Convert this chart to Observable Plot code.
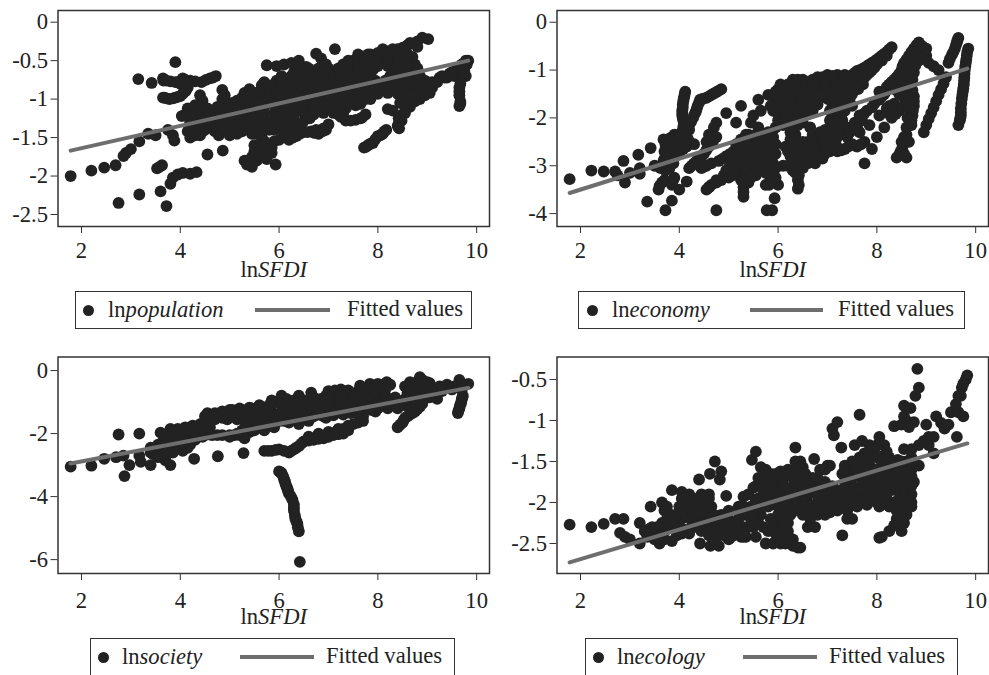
<!DOCTYPE html>
<html><head><meta charset="utf-8">
<script src="https://cdn.jsdelivr.net/npm/d3@7"></script>
<script src="https://cdn.jsdelivr.net/npm/@observablehq/plot@0.6"></script>
<style>
html,body{margin:0;padding:0;background:#fff;overflow:hidden}
#stage{position:relative;width:989px;height:675px;overflow:hidden;font-family:"Liberation Serif",serif;color:#222}
#stage>div.p{position:absolute}
.box{position:absolute;border:1.5px solid #333;box-sizing:border-box;background:#fff}
.dot{position:absolute;width:11px;height:11px;border-radius:50%;background:#222}
.ln{position:absolute;height:4px;background:#6e6e6e}
.t{position:absolute;font-size:22.6px;line-height:24px;white-space:nowrap}
.t i{font-style:italic}
</style></head><body><div id="stage"></div>
<script>
const xTicks=[2,4,6,8,10];
const fitX=[1.78,9.83];

const population=[[1.78,-2],[2.2,-1.93],[2.46,-1.89],[2.69,-1.86],[2.75,-2.35],[3.17,-2.24],[3.6,-2.2],[3.72,-2.39],[3.53,-1.9],[3.63,-1.86],[3.58,-1.88],
[2.85,-1.74],[2.9,-1.7],[3,-1.65],[3.17,-1.55],[3.15,-.74],[3.42,-.79],[3.65,-.73],[3.66,-.76],[3.9,-.52],
[3.65,-.98],[3.78,-1],[3.9,-.98],[4,-.96],[4.1,-.9],[4.15,-.85],[3.8,-.77],[3.9,-.78],[4.05,-.73],[4,-.8],[4.2,-.76],[4.43,-.78],[4.6,-.73],[4.72,-.7],
[3.8,-2.1],[3.85,-2.02],[3.95,-1.98],[4.05,-1.96],[4.2,-1.97],[4.33,-1.95],[4.55,-1.72],[4.86,-1.67],[3.35,-1.45],[3.5,-1.47],[3.75,-1.4],[3.85,-1.47],[3.88,-1.54],
[4.4,-.95],[4.45,-1.02],[4.3,-1.08],[4.15,-1.12],[4.1,-1.2],[4.03,-1.22],[4.25,-1.2],[4.4,-1.15],[4.55,-1.12],[4.7,-1.15],[4.85,-1],[4.85,-.88],[4.9,-.95],[4.95,-1.1],[5.05,-1.05],[5.15,-1.02],[5.25,-1.1],[5.3,-.92],[5.4,-.87],[5.5,-.95],[5.65,-.82],[5.7,-.78],[5.55,-1],[5.7,-1],[5.85,-.9],[5.95,-.8],
[4.2,-1.3],[4.35,-1.28],[4.5,-1.25],[4.65,-1.22],[4.8,-1.2],[4.95,-1.2],[5.1,-1.18],[5.25,-1.2],[5.4,-1.15],[5.55,-1.12],[5.7,-1.1],[5.85,-1.05],
[4.15,-1.42],[4.2,-1.5],[4.3,-1.47],[4.45,-1.42],[4.55,-1.35],[4.7,-1.42],[4.78,-1.47],[4.95,-1.4],[5,-1.47],[5.1,-1.35],[5.25,-1.42],[5.3,-1.3],[5.45,-1.32],[5.6,-1.25],[5.75,-1.3],[5.8,-1.4],[5.95,-1.3],[6,-1.2],[6.1,-1.25],[6.2,-1.3],[6.3,-1.2],
[6,-1.1],[6.2,-1.1],[6.4,-1.12],[6.6,-1.1],[6.8,-1.13],[7,-1.12],[7.2,-1.15],[7.35,-1.12],[7.55,-1.08],
[5.9,-1],[6.1,-1],[6.3,-1],[6.5,-1],[6.7,-1],[6.9,-1],[7.1,-1],[7.3,-1],[7.5,-1],[7.7,-.98],
[5.9,-.88],[6.1,-.88],[6.3,-.88],[6.5,-.88],[6.7,-.88],[6.9,-.88],[7.1,-.88],[7.3,-.88],[7.5,-.88],[7.7,-.88],[7.9,-.88],[8.1,-.85],[8.3,-.85],[8.5,-.88],[8.7,-.85],[8.9,-.82],
[5.95,-.76],[6.15,-.76],[6.35,-.76],[6.55,-.76],[6.75,-.76],[6.95,-.76],[7.15,-.76],[7.35,-.76],[7.55,-.76],[7.75,-.76],[7.95,-.76],[8.15,-.76],[8.35,-.76],[8.55,-.76],[8.75,-.76],[8.95,-.76],
[6.3,-.65],[6.5,-.65],[6.7,-.65],[6.9,-.65],[7.1,-.65],[7.3,-.65],[7.5,-.65],[7.7,-.65],[7.9,-.62],[8.3,-.62],[8.5,-.62],[8.7,-.62],
[5.75,-.56],[5.95,-.57],[6.1,-.55],[6.25,-.53],[6.4,-.5],[6.55,-.58],[6.75,-.41],[6.85,-.47],[6.95,-.55],[7.13,-.35],[7.3,-.55],[7.5,-.5],[7.65,-.45],[7.85,-.42],[8,-.4],[8.2,-.38],[8.4,-.35],[8.6,-.3],[7.7,-.55],[7.9,-.52],[8.1,-.5],[8.3,-.48],[8.5,-.46],[8.7,-.45],[8.75,-.55],[8.65,-.27],[8.8,-.25],[8.9,-.2],[9.02,-.22],
[6.2,-1.53],[6.35,-1.48],[6.5,-1.43],[6.65,-1.42],[6.8,-1.45],[6.95,-1.4],[7,-1.33],[6.9,-1.38],[6.75,-1.4],[6,-1.53],[6.12,-1.45],[6.2,-1.4],[6.4,-1.32],[6.55,-1.25],[6.7,-1.2],[7.35,-1.28],[7.55,-1.27],[7.65,-1.25],[7.75,-1.2],[7.2,-1.2],
[5.93,-1.85],[5.6,-1.6],[5.65,-1.5],[5.9,-1.55],[5.3,-1.8],[5.35,-1.85],[5.45,-1.88],[5.55,-1.8],[5.65,-1.75],[5.75,-1.78],[5.85,-1.7],[5.8,-1.6],[5.5,-1.68],
[7.72,-1.63],[7.8,-1.6],[7.9,-1.57],[8,-1.48],[8.1,-1.45],[8.17,-1.4],[8.4,-1.35],[8.42,-1.25],[8.5,-1.2],[8.55,-1.1],[8.3,-1.15],[8.2,-1.13],[7.75,-1],[7.85,-1],
[9.65,-1.09],[9.67,-1.03],[9.65,-.9],[9.65,-.85],[9.67,-.8],[8.65,-1.1],[8.75,-1.03],[8.85,-1],[8.95,-.95],[9.05,-.92],[8.45,-.95],[8.6,-.98],
[9,-.78],[9.2,-.78],[9.3,-.7],[9.45,-.67],[9.6,-.6],[9.7,-.55],[9.83,-.5],[9.8,-.55],[9.75,-.63],[9.78,-.7],[9.65,-.68],[9.4,-.72]];
const populationDense=[[5.9,-1.06],[6.1,-1.06],[6.3,-1.06],[6.5,-1.06],[6.7,-1.06],[6.9,-1.06],[7.1,-1.06],[7.3,-1.06],[7.45,-1.06],[7.65,-1.06],
[5.8,-.94],[6,-.94],[6.2,-.94],[6.4,-.94],[6.6,-.94],[6.8,-.94],[7,-.94],[7.2,-.94],[7.4,-.94],[7.6,-.94],[7.8,-.94],[8,-.93],[8.2,-.92],[8.4,-.93],[8.6,-.92],
[5.85,-.82],[6.05,-.82],[6.25,-.82],[6.45,-.82],[6.65,-.82],[6.85,-.82],[7.05,-.82],[7.25,-.82],[7.45,-.82],[7.65,-.82],[7.85,-.82],[8.05,-.82],[8.25,-.82],[8.45,-.82],[8.65,-.82],[8.85,-.82],
[6.05,-.7],[6.25,-.7],[6.45,-.7],[6.65,-.7],[6.85,-.7],[7.05,-.7],[7.25,-.7],[7.45,-.7],[7.65,-.7],[7.85,-.7],[8.25,-.7],[8.45,-.7],[8.65,-.7],[8.85,-.7],
[6.4,-.6],[6.6,-.6],[6.8,-.6],[7,-.6],[7.2,-.6],[7.4,-.6],[7.6,-.6],[7.8,-.6],[8,-.57],[8.2,-.57],[8.4,-.58],[8.6,-.55],[8.8,-.6],
[7.4,-.5],[7.6,-.5],[7.8,-.5],[8,-.47],[8.2,-.47],[8.4,-.45],[8.6,-.42],[8.8,-.32],
[7.6,-.42],[7.8,-.42],[8,-.42],[8.2,-.42],[8.4,-.42],[8.1,-.35],[8.3,-.35],[8.5,-.33],
[5.9,-1.18],[6.1,-1.18],[6.3,-1.15],[6.5,-1.18],[6.7,-1.15],[6.9,-1.18],[7.1,-1.18],[7.3,-1.18],
[5.85,-1.3],[6.05,-1.3],[6.3,-1.28],[5.5,-1.4],[5.65,-1.4],[5.9,-1.4],[6.05,-1.4],
[4.3,-1.2],[4.45,-1.2],[4.6,-1.18],[4.75,-1.1],[4.85,-1.12],[5,-1.15],[5.15,-1.12],[5.35,-1],[5.45,-1.05],[5.6,-1.05],[5.75,-.9],[5.6,-.9],[5.45,-.95],[5.25,-.98],
[4.35,-1.38],[4.5,-1.33],[4.65,-1.3],[4.8,-1.3],[4.95,-1.3],[5.1,-1.28],[5.25,-1.3],[5.4,-1.25],[5.55,-1.2],[5.7,-1.2],[5.05,-1.4],[5.2,-1.35],[5.4,-1.4],[5.6,-1.35],[5.7,-1.4],[4.25,-1.4],[4.4,-1.47],
[5.55,-1.75],[5.45,-1.75],[5.65,-1.65],[5.75,-1.68],[5.4,-1.8],[5.5,-1.6],[5.7,-1.55],[5.85,-1.63],
[6.28,-1.5],[6.42,-1.45],[6.58,-1.43],[6.72,-1.44],[6.88,-1.42],[6.3,-1.38],[6.48,-1.3],[6.62,-1.25],[7.25,-1.23],[7.45,-1.28],[7.68,-1.24],[7.15,-1.15],
[9.1,-.78],[9.25,-.72],[9.35,-.72],[9.5,-.65],[9.55,-.7],[9.7,-.62],[9.78,-.5],[9.72,-.7],[9.1,-.85],[8.85,-.93],[8.45,-1.05],[8.55,-1.02],[8.65,-.95],[8.75,-.95],[8.55,-1.18],[8.48,-1.28],[8.42,-1.32],[8.43,-1.38],
[7.76,-1.62],[7.85,-1.58],[7.95,-1.52],[8.05,-1.47],[8.13,-1.42],[9.65,-.95],[9.67,-1.06],
[3.68,-.98],[3.72,-.99],[3.85,-.99],[3.95,-.97],[4.05,-.93],[4.12,-.88],[3.98,-.77],[4.1,-.75],[4.3,-.77],[4.52,-.75],[4.66,-.72],[3.72,-.76],
[4.5,-1.4],[4.85,-1.38],[5.15,-1.45],[5.45,-1.45],[5.55,-1.45]];
const populationFit=[-1.67,-.5];

const economy=[[1.78,-3.28],[2.22,-3.1],[2.47,-3.12],[2.7,-3.12],[2.87,-2.9],[2.75,-3.2],[2.9,-3.35],[3,-3.15],[3.17,-2.77],[3.2,-3.05],[3.2,-3.17],[3.42,-2.63],[3.35,-3.75],[3.5,-3],[3.58,-3.5],[3.65,-3.35],[3.7,-3.05],[3.72,-3.93],[3.85,-3.73],[3.85,-3.4],[3.9,-3.25],[4,-3.5],[4.15,-3.33],[4.75,-3.93],[5.77,-3.93],[5.88,-3.93],[5.93,-3.68],[5.3,-3.65],
[4.12,-1.45],[4.1,-1.55],[4.08,-1.65],[4.07,-1.78],[4.06,-1.9],[4.07,-2],[4.1,-2.1],[4.08,-2.2],[4.05,-2.3],[3.9,-2.35],[4.15,-2.3],[4.85,-1.4],[4.75,-1.46],[4.65,-1.52],[4.55,-1.58],[4.42,-1.62],[4.37,-1.75],[4.33,-1.88],[4.28,-2],[4.2,-2.15],
[3.68,-2.45],[3.85,-2.55],[4,-2.55],[4.15,-2.6],[3.7,-2.7],[3.85,-2.72],[4,-2.72],[3.7,-2.85],[3.85,-2.88],[3.62,-3.05],[4.3,-2.55],[4.55,-2.5],[4.6,-2.35],[4.7,-2.2],[4.75,-2.1],[4.95,-1.9],[5.25,-1.75],[5.6,-1.62],[5.8,-1.52],[5.15,-2.1],[5.5,-1.95],[5.65,-1.85],
[4.2,-3.05],[4.3,-2.95],[4.4,-2.85],[4.5,-2.75],[4.6,-2.6],[4.75,-2.4],[4.45,-3.05],[4.55,-3],[4.8,-2.9],[4.95,-2.8],[5.1,-2.7],[5.3,-2.6],[4.55,-3.5],[4.65,-3.4],[4.85,-3.3],[5,-3.25],[5.15,-3.15],[5.3,-3.05],[5.45,-2.95],[5.6,-2.8],[5.4,-2.35],[5.5,-2.55],[5.65,-2.4],[5.35,-2.8],[5.45,-3.1],[5.6,-3],[5.75,-2.9],[5.85,-2.7],[5.95,-2.55],[5.25,-3.3],[5.3,-3.45],[5.4,-3.2],[5.55,-3.2],[5.75,-3.4],[5.85,-3.25],[6,-3.4],[5.7,-2.55],[5.8,-2.3],[5.95,-2.2],[5.45,-2.1],[5.6,-2.2],[5.1,-2.95],[5.7,-3.1],[6.1,-3],
[6.15,-2.6],[6.25,-2.45],[6.3,-2.25],[6.25,-2.8],[6.2,-3],[6.35,-2.95],[6.4,-3.3],[6.4,-3.48],[6.35,-3.15],[6.5,-3.05],[6.5,-2.85],[6.6,-2.75],[6.75,-2.6],[6.6,-2.5],[6.55,-2.65],[6.8,-2.45],[6.95,-2.55],[7,-2.35],[7.1,-2.1],[6.75,-2.95],[6.9,-2.85],[7.05,-2.7],[7.15,-2.5],[6.95,-2.25],[6.6,-2.95],[7.2,-2.3],[6.5,-2.1],[6.65,-2.2],[7.3,-2.05],
[6,-1.4],[6.2,-1.3],[6.4,-1.2],[6.6,-1.25],[6.8,-1.15],[7,-1.1],[7.2,-1.1],[6,-1.55],[6.2,-1.5],[6.4,-1.45],[6.65,-1.4],[6.85,-1.35],[7.1,-1.3],[5.9,-1.7],[6.1,-1.7],[6.3,-1.65],[6.5,-1.6],[6.7,-1.55],[6.9,-1.55],[7.3,-1.45],[5.9,-1.85],[6.1,-1.85],[6.3,-1.85],[6.5,-1.8],[6.7,-1.85],[7.1,-1.6],[6.2,-2],[6.4,-2],[6.1,-2.15],[7.05,-1.85],[7.25,-1.75],[7.45,-1.6],
[8.3,-.52],[8.2,-.62],[8.1,-.7],[8,-.78],[7.9,-.85],[7.8,-.92],[7.7,-.98],[7.6,-1.02],[7.5,-1.1],[7.4,-1.2],[7.3,-1.3],[7.8,-1.1],[7.7,-1.2],[7.6,-1.28],[7.5,-1.4],[7.35,-1.1],[7.95,-.95],
[7.2,-2.7],[7.35,-2.65],[7.5,-2.55],[7.4,-2.4],[7.6,-2.6],[7.75,-2.5],[7.65,-2.3],[7.85,-2.15],[7.4,-2.2],[7.55,-2.1],[7.65,-1.95],[7.8,-1.85],[7.95,-1.7],[8.15,-1.5],[8.05,-1.45],[7.75,-2.95],[7.9,-2.65],[8,-2.4],[8.15,-2.2],[8.05,-1.95],[8.2,-1.8],[8.35,-1.7],[8.5,-1.5],[8.3,-2],[8.45,-1.85],[8.6,-1.65],
[8.85,-.42],[8.75,-.55],[8.65,-.7],[8.55,-.85],[8.5,-1],[8.4,-1.15],[8.3,-1.25],[8.2,-1.35],[9,-.55],[8.85,-.6],[8.7,-.85],[8.6,-1.05],[8.55,-1.2],[8.45,-1.3],[8.85,-.8],[9.05,-.85],[9.25,-1],[8.75,-1.05],[8.7,-1.3],[8.75,-1.55],[8.75,-1.75],[8.72,-1.95],[8.7,-2.15],[8.65,-2.5],[8.6,-2.35],[8.5,-2.5],[8.48,-2.7],[8.4,-2.83],[8.6,-2.83],[8.55,-2.75],
[9.65,-.33],[9.62,-.42],[9.58,-.55],[9.52,-.68],[9.45,-.85],[9.85,-.55],[9.82,-.7],[9.8,-.85],[9.78,-1],[9.77,-1.15],[9.76,-1.3],[9.74,-1.45],[9.72,-1.6],[9.7,-1.8],[9.7,-1.95],[9.68,-2.05],[9.65,-2.15],
[9.4,-1.15],[9.3,-1.4],[9.2,-1.65],[9.1,-1.9],[9,-2.15],[8.95,-2.3]];
const economyDense=[[6.05,-1.3],[6.25,-1.3],[6.45,-1.3],[6.65,-1.3],[6.85,-1.25],[7.05,-1.2],[6.3,-1.2],[6.5,-1.2],[6.7,-1.2],[6.9,-1.15],[7.1,-1.12],
[5.95,-1.45],[6.1,-1.45],[6.3,-1.45],[6.5,-1.45],[6.75,-1.45],[6.95,-1.45],[7.2,-1.45],
[5.95,-1.6],[6.15,-1.6],[6.35,-1.6],[6.55,-1.6],[6.75,-1.6],[7,-1.6],[7.2,-1.6],[7.4,-1.55],
[5.85,-1.75],[6,-1.75],[6.2,-1.75],[6.4,-1.75],[6.6,-1.75],[6.8,-1.72],[7.25,-1.65],[7.4,-1.7],
[6,-1.9],[6.2,-1.9],[6.4,-1.9],[6.6,-1.92],[6.3,-2.05],[6.5,-2],[6,-2.05],
[5.7,-2.7],[5.8,-2.85],[5.9,-2.95],[5.95,-3.05],[5.5,-2.75],[5.6,-2.65],[5.4,-2.65],[5.45,-2.85],[5.55,-3.05],[5.65,-2.95],[5.75,-3.15],[5.3,-2.9],[5.2,-2.95],[5,-3.05],[4.9,-3.2],[4.75,-3.3],[4.6,-3.45],[5.4,-3.35],[5.25,-3.2],[5.6,-3.1],[5.85,-3.05],[5.95,-3.25],[5.85,-3.35],[5.82,-3.4],
[6.2,-2.7],[6.3,-2.6],[6.4,-2.5],[6.35,-2.35],[6.25,-2.15],[6.4,-2.15],[6.45,-2.75],[6.55,-2.55],[6.7,-2.35],[6.85,-2.3],[6.85,-2.65],[7,-2.45],[7.05,-2.2],[7.15,-2],[7.2,-2.15],[6.65,-2.85],[6.8,-2.75],[6.95,-2.65],[7.1,-2.6],[7.2,-2.4],[7.3,-2.2],[6.45,-2.95],[6.3,-3.1],[6.42,-3.2],[6.42,-3.4],
[8.25,-.57],[8.15,-.66],[8.05,-.74],[7.95,-.82],[7.85,-.88],[7.75,-.95],[7.65,-1],[7.55,-1.06],[7.45,-1.15],[7.35,-1.25],[7.9,-1],[7.75,-1.15],[7.65,-1.25],[7.55,-1.35],[7.45,-1.3],
[7.28,-2.68],[7.42,-2.6],[7.55,-2.58],[7.68,-2.55],[7.45,-2.3],[7.6,-2.2],[7.7,-2.05],[7.25,-1.95],[7.35,-1.85],[7.5,-1.75],[7.75,-1.9],[7.9,-1.78],[8.05,-1.62],[8.1,-1.55],[8.25,-1.75],[8.4,-1.78],[8.55,-1.58],[8.38,-1.92],[8.52,-1.78],[8.22,-1.9],
[8.8,-.48],[8.7,-.62],[8.6,-.78],[8.52,-.92],[8.45,-1.08],[8.35,-1.2],[8.25,-1.3],[8.92,-.5],[8.8,-.68],[8.65,-.95],[8.58,-1.12],[8.5,-1.25],[8.78,-.9],[8.7,-1],[8.65,-1.2],[8.72,-1.2],[8.72,-1.42],[8.75,-1.65],[8.73,-1.85],[8.7,-2.05],[8.68,-1.6],[8.65,-1.8],[8.62,-2],[8.6,-2.2],[8.55,-2.4],[8.52,-2.6],[8.45,-2.77],[8.35,-1.4],[8.45,-1.5],[9,-.7],[9.15,-.92],[8.95,-.75],
[9.63,-.38],[9.6,-.48],[9.55,-.62],[9.48,-.76],[9.83,-.62],[9.81,-.78],[9.79,-.92],[9.775,-1.08],[9.765,-1.22],[9.75,-1.38],[9.73,-1.52],[9.71,-1.7],[9.7,-1.88],[9.69,-2],[9.35,-1.28],[9.25,-1.52],[9.15,-1.78],[9.05,-2.02],
[4.11,-1.5],[4.09,-1.6],[4.07,-1.72],[4.06,-1.84],[4.06,-1.95],[4.08,-2.05],[4.09,-2.15],[4.1,-2.25],[4.8,-1.43],[4.7,-1.49],[4.6,-1.55],[4.48,-1.6],[4.4,-1.68],[4.35,-1.82],[4.3,-1.94],[4.24,-2.08],[4.2,-2.25],
[3.78,-2.6],[3.92,-2.62],[4.08,-2.65],[3.78,-2.8],[3.92,-2.8],[3.75,-2.95],[3.92,-2.45],[4.05,-2.45],[4.25,-3],[4.35,-2.9],[4.45,-2.8],[4.55,-2.67],[4.68,-2.5],[4.5,-3.02],[4.65,-2.95],[4.88,-2.85],[5.03,-2.75],[5.2,-2.65],[4.6,-3.45],[4.75,-3.35],[5.08,-3.2],[3.6,-3.42],[3.7,-3.3],[3.88,-3.3],
[3.72,-2.55],[3.8,-2.68],[3.95,-2.7],[3.75,-2.75],[3.88,-2.95],[3.72,-3],[3.68,-2.9],[4.1,-2.5],[4.18,-2.45],[3.95,-2.55],[3.82,-2.42],[3.98,-2.35],[4.12,-2.4],[3.8,-3.05],[3.72,-3.1],
[4.95,-3.1],[5.05,-2.9],[5.15,-2.8],[5.25,-2.8],[5.2,-3.05],[5.35,-3.1],[5.45,-3.25],[5.5,-2.95],[5.6,-2.9],[5.7,-2.8],[5.3,-3.3],[5.3,-3.55],[5.15,-2.55],[5.25,-2.45],[5.35,-2.5],[5.35,-2.35],[5.6,-2.5],[5.75,-2.65],[5.85,-2.5],[5.85,-2.85],[5.95,-2.75],[5.9,-2.4],[5.7,-2.4],[5.55,-2.35],
[6.1,-1.38],[6.3,-1.38],[6.5,-1.38],[6.72,-1.35],[6.95,-1.3],[5.95,-1.5],[6.05,-1.62],[6.25,-1.55],[6.45,-1.55],[6.6,-1.5],[6.82,-1.5],[7.05,-1.52],[7.18,-1.32],[7.3,-1.25],[6.1,-1.78],[6.3,-1.78],[6.5,-1.72],[6.68,-1.68],[7.1,-1.72],[6.15,-1.95],[6.35,-1.95],[6.55,-1.85],
[6.3,-2.05],[6.15,-2.05],[6.25,-2.3],[6.3,-2.4],[6.25,-2.55],[6.35,-2.75],[6.3,-2.85],[6.4,-2.6],[6.5,-2.5],[6.7,-2.45],[6.7,-2.65],[6.75,-2.85],[6.95,-2.75],[7.05,-2.6],[7.1,-2.35],[7.05,-2.05],[7.25,-2.05],[7.3,-1.9],[6.9,-2.45],[6.6,-2.65],[7.18,-2.58],[6.35,-3.05],
[7.85,-1.05],[7.72,-1.3],[7.62,-1.4],[7.5,-1.5],[7.4,-1.4],[8.1,-.8],[8,-.88],[8.2,-.7],[8.18,-1.45],[8.3,-1.35],[8.4,-1.4],[8.5,-1.4],[8.6,-1.35],[8.6,-1.5]];
const economyFit=[-3.57,-.97];

const society=[[1.78,-3.05],[2.2,-3.02],[2.46,-2.8],[2.7,-2.75],[2.75,-2.03],[2.87,-3.35],[2.97,-3],[2.85,-2.7],[3.17,-2],[3.17,-2.7],[3.2,-2.9],[3.4,-3],[3.6,-1.97],[3.45,-2.65],[3.6,-2.7],[3.8,-3],[3.7,-2.85],[4.28,-2.8],[4.76,-2.72],[5.28,-2.62],
[3.4,-2.45],[3.55,-2.35],[3.7,-2.5],[3.65,-2.25],[3.85,-2.35],[4,-2.4],[3.85,-2.6],[4.05,-2.55],[4.15,-2.45],[3.8,-1.85],[3.95,-1.85],[4.1,-1.8],[3.8,-2.05],[3.95,-2.05],[4.1,-2],[4.25,-1.75],[4.25,-2.05],[4.4,-1.7],[4.4,-1.9],[4.55,-1.35],[4.7,-1.35],[4.85,-1.3],[4.55,-1.55],[4.7,-1.55],[4.85,-1.5],[5,-1.45],[4.5,-2.05],[4.65,-2.05],[4.85,-2.05],[5,-2.05],[5.2,-2.05],[5.3,-2.15],[4.3,-2.2],[5.4,-1.95],
[5,-1.25],[5.2,-1.2],[5.4,-1.18],[5.6,-1.1],[5.2,-1.4],[5.4,-1.4],[5.6,-1.35],[5.8,-1.2],[5.3,-1.6],[5.5,-1.6],[5.7,-1.55],[5.9,-1.4],[5.4,-1.8],[5.6,-1.8],[5.8,-1.7],[6,-1.6],[6.05,-.8],[6,-1],[6.2,-1],[6.4,-.8],[6.4,-1.05],[6.2,-1.25],[6.4,-1.25],[6.6,-1],[6.1,-1.45],[6.3,-1.45],[6.5,-1.4],[6.7,-1.3],[6.2,-1.65],[6.4,-1.7],[6.65,-.7],[6.8,-1],[6.9,-1.25],[6.6,-1.5],[6.9,-1.45],[7,-.65],[7.1,-.95],[7.15,-1.2],[7.25,-.6],[7.35,-.9],[7.35,-1.2],[7.6,-.65],[7.6,-.9],[7.6,-1.15],[7.85,-.55],[7.85,-.8],[7.85,-1.05],[8,-.5],[8.15,-.42],[8.25,-.45],[8.05,-.7],[8.05,-.95],[8.35,-.85],[8.35,-1.05],[8.6,-.7],[8.55,-.9],[8.85,-.65],[8.75,-.85],[8.55,-1.1],[8.8,-.35],[8.7,-.42],[8.55,-.5],[8.9,-.3],[9.05,-.4],[8.95,-.55],[9.25,-.5],[9.4,-.45],[9.65,-.3],[9.55,-.5],[9.83,-.42],[9.7,-.45],[9.2,-.9],[9.05,-.85],
[5.7,-2.55],[5.85,-2.55],[6,-2.5],[6.2,-2.6],[6.3,-2.5],[6.4,-2.4],[6.5,-2.25],[6.7,-2.2],[6.9,-2.15],[7.1,-2.05],[7.3,-2],[7.4,-1.9],[6.6,-2.1],[6.8,-2],[7,-1.95],[7.2,-1.85],[7.5,-1.7],[7.7,-1.6],
[8.4,-1.8],[8.5,-1.65],[8.55,-1.5],[8.65,-1.4],[8.75,-1.3],[8.85,-1.15],
[9.62,-1.35],[9.65,-1.2],[9.68,-1.05],[9.7,-.9],[9.72,-.8],
[6,-3.2],[6.05,-3.25],[6.1,-3.45],[6.13,-3.6],[6.17,-3.75],[6.2,-3.9],[6.27,-4.1],[6.3,-4.25],[6.3,-4.35],[6.33,-4.7],[6.37,-4.85],[6.4,-5.1],[6.42,-6.07]];
const societyDense=[[5.1,-1.3],[5.3,-1.3],[5.5,-1.25],[5.7,-1.2],[5.15,-1.55],[5.25,-1.5],[5.45,-1.5],[5.65,-1.45],[5.85,-1.3],[5.35,-1.7],[5.55,-1.7],[5.75,-1.65],[5.95,-1.5],[5.5,-1.9],[5.7,-1.9],[5.9,-1.8],[6.1,-1.6],[6.3,-1.55],[6.5,-1.55],[6.7,-1.45],[6.1,-1.15],[6.3,-1.15],[6.5,-1.15],[6.15,-.9],[6.3,-.95],[6.5,-.95],[6.7,-1.15],[6.9,-1.1],[7.1,-1.1],[7.3,-1.05],[7.5,-1],[7,-1.35],[7.2,-1.3],[7.4,-1.2],[7.55,-1.25],[6.8,-1.4],[6.7,-.85],[6.95,-.8],[7.2,-.75],[7.45,-.75],[7.7,-.75],[7.95,-.65],[8.15,-.6],[8,-.85],[8.2,-.9],[7.75,-1],[8,-1.1],[8.2,-1.1],[8.45,-1],[8.7,-.95],[8.9,-.95],[8.65,-.55],[8.75,-.6],[8.9,-.5],[9,-.6],[8.7,-1.1],[9.1,-.7],[9.3,-.65],[9.5,-.6],[9.7,-.6],[8.95,-.75],
[6.7,-2.15],[6.95,-2.05],[7.15,-1.95],[7.3,-1.85],[7.4,-1.75],[7.6,-1.65],[7.7,-1.45],[7.95,-1.3],
[5.78,-2.55],[5.93,-2.52],[6.1,-2.55],[6.25,-2.55],[6.35,-2.45],[6.45,-2.32],[6.6,-2.22],[6.8,-2.17],[7,-2.1],[7.2,-2.02],
[3.5,-2.45],[3.75,-2.4],[3.6,-2.55],[3.9,-2.5],[3.4,-2.6],[3.95,-2.2],[4.1,-2.2],[4.2,-2.1],[4.2,-2.25],[4.05,-1.9],[4.35,-1.8],[4.5,-1.6],[4.6,-1.8],[4.5,-1.45],[4.65,-1.45],[4.75,-1.45],[4.9,-1.4],[4.35,-2.05],[4.6,-2.03],[4.75,-2.05],[5.1,-2.05],[5.25,-1.9],[5.3,-2.05],[5.05,-1.35],[5.25,-1.25],[5.45,-1.2],[5.65,-1.15],[5.8,-1.1],[5.95,-1],[5.85,-.95],
[8.45,-1.72],[8.52,-1.58],[8.6,-1.45],[8.7,-1.35],[8.8,-1.22],[8.65,-1.2],[8.9,-1.05],[9.63,-1.28],[9.66,-1.12],[9.69,-.98],[9.71,-.85],
[6.02,-3.22],[6.08,-3.35],[6.12,-3.52],[6.15,-3.68],[6.18,-3.82],[6.24,-4],[6.3,-4.45],[6.32,-4.6],[6.35,-4.78],[6.38,-4.97],
[7.64,-.48],[7.84,-.42],[7.4,-.63],[7.13,-.63],[8.18,-.37],[8,-.42],[8.85,-.21],[8.65,-.37],[9,-.37],
[3.6,-2.5],[3.7,-2.35],[3.8,-2.45],[3.95,-2.35],[3.9,-2.2],[3.75,-2.2],[3.6,-2.4],[3.5,-2.6],[3.7,-2.65],[3.55,-2.75],[4.05,-2.3],[4.2,-2.35],[3.85,-1.95],[4,-1.95],[4.15,-1.9],[4.3,-1.9],[4.45,-1.8],[4.55,-1.7],[4.7,-1.45],[4.95,-1.55],[5.1,-1.4],[5.05,-1.25],[4.45,-2.1],[5,-2.1],[5.15,-2],
[6.6,-1.6],[6.05,-1.3],[6.25,-1.35],[6.45,-1.3],[6.65,-1.15],[6.8,-1.2],[7,-1.2],[6.85,-.9],[7.05,-.85],[7.25,-.9],[7.5,-.85],[7.25,-1.15],[7.45,-1.1],[7.75,-.9],[7.95,-.75],[7.75,-1.15],[8,-1.2],[8.2,-1.2],[8.4,-1.2],[8.15,-.8],[6.95,-1.5],[7.1,-1.42],[7.3,-1.4],[7.45,-1.35],[7.6,-1.35],[7.85,-1.25]];
const societyFit=[-2.95,-.55];

const ecology=[[1.78,-2.27],[2.22,-2.3],[2.47,-2.26],[2.7,-2.2],[2.87,-2.2],[2.8,-2.37],[2.9,-2.42],[3,-2.45],[3.2,-2.25],[3.2,-2.5],[3.42,-2.05],[3.3,-2.35],[3.5,-2.35],[3.6,-2.5],[3.7,-2.45],[3.85,-2.47],[3.65,-2.25],[3.8,-2.28],[3.95,-2.3],[4.1,-2.33],[4.25,-2.3],
[3.65,-2],[3.75,-2.05],[3.85,-1.85],[4.05,-1.87],[4.2,-1.9],[4,-2.05],[3.7,-2.1],[4.15,-2.15],[4.45,-1.9],[4.4,-2.05],[4.55,-2.05],[4.35,-2.2],[4.5,-2.22],[4.4,-1.72],[4.62,-1.65],[4.72,-1.5],[4.85,-1.62],[4.82,-1.72],[4.6,-1.9],[4.95,-1.92],[5.3,-1.93],
[4.42,-2.5],[4.63,-2.53],[4.8,-2.53],[5,-2.45],[5.1,-2.4],[4.7,-2.15],[4.7,-2.35],[4.85,-2.2],[5,-2.1],[5.2,-2.05],[5.3,-2.15],[5.3,-2.3],[5.45,-2.2],[5.35,-2.42],[5.55,-2.42],[5.6,-2.25],[5.45,-2.05],[5.6,-2.05],[5.25,-2.42],[5.4,-1.9],
[5.1,-2.3],[5.75,-2.5],[5.9,-2.5],[6.05,-2.5],[6.15,-2.5],[6.3,-2.53],[6.4,-2.55],[6.45,-2.55],[5.95,-2.38],[6.1,-2.4],[5.85,-2.2],[6.05,-2.25],[6.2,-2.25],
[5.47,-1.48],[5.55,-1.38],[5.65,-1.57],[5.85,-1.65],[5.7,-1.75],[5.5,-1.82],[5.9,-1.8],[6,-1.7],[6.15,-1.65],[6.35,-1.33],[6.35,-1.5],[6.35,-1.6],[6.55,-1.65],[6.7,-1.7],[6.73,-1.47],[6.85,-1.6],[7,-1.55],
[5.7,-1.9],[5.9,-1.95],[6.1,-1.85],[6.3,-1.8],[6.5,-1.8],[6.7,-1.85],[6.9,-1.85],[7.1,-1.8],[5.8,-2.05],[6,-2.05],[6.2,-2.05],[6.4,-1.95],[6.6,-2],[6.8,-2],[7,-2],[6.5,-2.15],[6.65,-2.2],[6.75,-2.3],[6.6,-2.3],[6.8,-2.15],[6.95,-2.15],
[7.1,-1.1],[7.2,-1.02],[7.13,-1.18],[7.28,-1.33],[7.65,-.93],[7.3,-2.4],[7.2,-2.1],[7.4,-2.1],[7.5,-2.2],[7.55,-1.3],[7.7,-1.25],[7.85,-1.3],[8.05,-1.2],[8.15,-1.3],[8.2,-1.38],[7.9,-1.45],
[7.3,-1.65],[7.5,-1.6],[7.7,-1.55],[7.9,-1.58],[8.1,-1.5],[7.3,-1.85],[7.5,-1.8],[7.7,-1.75],[7.9,-1.75],[8.1,-1.7],[8.3,-1.65],[8.5,-1.6],[8.7,-1.6],[7.3,-1.95],[7.5,-1.95],[7.7,-1.95],[7.9,-1.9],[8.2,-1.85],[8.4,-1.8],[8.6,-1.75],[8.75,-1.75],[8.05,-2.05],[8.35,-2],[8.6,-1.95],[8.7,-2.05],[8.5,-2.1],[8.65,-1.85],[8.4,-2.2],[8.55,-2.25],[8.35,-2.28],[8.5,-2.35],[8.25,-2.35],[8.1,-2.42],[8.05,-2.43],
[8.35,-1.07],[8.5,-1.05],[8.55,-.95],[8.65,-1.02],[8.75,-1.02],[8.55,-.82],[8.68,-.85],[8.78,-.7],[8.85,-.6],[8.82,-.37],[8.65,-1.08],[9,-1.05],
[8.55,-1.35],[8.7,-1.35],[8.85,-1.3],[8.95,-1.25],[9.05,-1.2],[9.15,-1.2],[9.15,-1.4],[8.85,-1.55],[8.7,-1.45],[9.05,-1.3],
[9.2,-.95],[9.3,-1.03],[9.37,-1.1],[9.45,-1.05],[9.5,-.9],[9.6,-.8],[9.65,-.7],[9.72,-.6],[9.8,-.5],[9.83,-.45],[9.75,-.55],[9.7,-.7],[9.65,-.9],[9.75,-.95],[9.62,-1.2]];
const ecologyDense=[[5.65,-1.72],[5.8,-1.7],[5.95,-1.78],[6.1,-1.72],[6.25,-1.65],[6.4,-1.7],[6.55,-1.72],[6.7,-1.78],[6.85,-1.78],[5.55,-1.8],[5.8,-1.85],[6,-1.88],[6.2,-1.92],[6.4,-1.85],[6.6,-1.9],[6.85,-1.92],[7.05,-1.92],[7.2,-1.85],[5.95,-1.65],[6.2,-1.6],[6.5,-1.57],[6.45,-1.5],[6.1,-1.98],[6.3,-2],[6.5,-2.05],[6.7,-2.08],[6.9,-2.08],[6.15,-2.15],[6.25,-2.15],[6,-2.15],[5.9,-2.3],[6.1,-2.3],[6.2,-2.35],[6.3,-2.45],[6.2,-2.45],[5.65,-2.15],[5.5,-2.3],[5.3,-2.05],[5.4,-2.3],
[7.2,-1.95],[7.35,-1.75],[7.5,-1.7],[7.65,-1.65],[7.8,-1.65],[8,-1.6],[8.2,-1.6],[8.4,-1.55],[8.6,-1.5],[8.7,-1.5],[7.35,-1.6],[7.6,-1.5],[7.75,-1.5],[7.9,-1.65],[7.4,-1.87],[7.6,-1.87],[7.8,-1.85],[8,-1.85],[8.1,-1.8],[8.3,-1.75],[8.5,-1.7],[8.7,-1.68],[7.45,-2],[7.6,-2.05],[7.8,-2.03],[7.85,-1.95],[8,-2],[8.2,-1.95],[8.45,-1.95],[8.6,-2.05],[8.55,-2.15],[8.7,-1.9],[8.45,-2.25],[8.45,-2.05],[8.25,-2.05],
[7.75,-1.4],[7.85,-1.4],[7.95,-1.35],[8,-1.3],[8.15,-1.42],[8.25,-1.45],[8.42,-1.48],[7.05,-1.55],[6.95,-1.6],[7.1,-2.05],[7.05,-2.12],[7.25,-2.05],[7.4,-2.2],
[4.15,-1.95],[4.3,-1.95],[4.3,-2.1],[4.5,-1.95],[4.55,-1.95],[4.5,-2.12],[4.65,-2.05],[4.25,-2.22],[4.4,-2.28],[4.6,-2.25],[4.75,-2.25],[4.85,-2.32],[4.05,-2.2],[3.95,-2.15],[3.85,-2.15],[3.55,-2.3],[3.7,-2.35],[4.55,-2.35],[4.75,-2.42],[5.2,-2.35],[5.05,-2.42],[5.2,-2.2],[5,-2.2],[5.4,-2.1],[3.4,-2.32],[3.35,-2.42],
[5.75,-1.6],[5.6,-1.95],[5.75,-1.95],[5.95,-2],[5.6,-1.7],[5.75,-1.82],[5.9,-1.7],[6.05,-1.62],[6.3,-1.7],[6.45,-1.78],[6.6,-1.8],[6.8,-1.7],[6.95,-1.75],[6.1,-1.78],[6.25,-1.85],[6.15,-2.05],[6.35,-2.1],[6.55,-2.1],[6.8,-1.92],[7,-1.85],[7.15,-1.95],[5.7,-2.3],[5.8,-2.35],[5.3,-2.42],[5.4,-2.15],[5.5,-2.15],[5.55,-1.98],[6.05,-2.15],[6.1,-2.25],
[3.75,-2.2],[3.9,-2.2],[4.05,-1.95],[4.2,-2],[4.05,-2.1],[4.15,-2.05],[4.4,-1.97],[4.6,-1.95],[4.65,-2.15],[4.35,-2.3],[4.45,-2.35],[4.6,-2.4],[3.95,-2.4],[4.05,-2.38],[4.2,-2.38],[4.85,-2.15],[5,-2.3],[4.9,-2.4],[3.65,-2.4],[3.5,-2.45],[3.45,-2.3],
[7.35,-1.55],[7.5,-1.5],[7.65,-1.45],[7.8,-1.5],[8,-1.45],[8.3,-1.5],[8.5,-1.5],[7.55,-1.6],[7.75,-1.6],[8,-1.7],[8.2,-1.7],[8.4,-1.65],[8.6,-1.62],[8.7,-1.8],[7.5,-1.88],[7.7,-1.85],[7.9,-1.82],[8.1,-1.9],[8.3,-1.85],[8.5,-1.85],[8.55,-1.95],[7.65,-1.98],[8.1,-2],[8.7,-2],[8.6,-2.15],[8.5,-2.2],[8.4,-2.1]];
const ecologyFit=[-2.73,-1.28];

const panels=[
 {data:population.concat(populationDense),fit:populationFit,left:0,top:0,mt:10,mb:109,ml:57.5,yDomain:[-2.656,.152],yTicks:[0,-.5,-1,-1.5,-2,-2.5],pad:8,
  legend:{box:[75,291,397,38],dotX:83,textX:108,lineX:255,lineW:75,fitX:347,y:310,name:"population"}},
 {data:economy.concat(economyDense),fit:economyFit,left:494.5,top:0,mt:10,mb:109,ml:61.5,yDomain:[-4.27,.245],yTicks:[0,-1,-2,-3,-4],pad:8,
  legend:{box:[578,291,387,38],dotX:587,textX:612,lineX:750,lineW:73,fitX:838,y:310,name:"economy"}},
 {data:society.concat(societyDense),fit:societyFit,left:0,top:340,mt:16.5,mb:102,ml:57.5,yDomain:[-6.44,.43],yTicks:[0,-2,-4,-6],pad:11,
  legend:{box:[90,638,365,60],dotX:98,textX:122,lineX:240,lineW:74,fitX:326,y:657,name:"society"}},
 {data:ecology.concat(ecologyDense),fit:ecologyFit,left:494.5,top:340,mt:16.5,mb:102,ml:61.5,yDomain:[-2.866,-.226],yTicks:[-.5,-1,-1.5,-2,-2.5],pad:11,
  legend:{box:[585,638,373,60],dotX:593,textX:617,lineX:743,lineW:74,fitX:829,y:657,name:"ecology"}}
];
const stage=document.getElementById("stage");
for(const p of panels){
  const W=494.5,H=335;
  const line=fitX.map((x,i)=>({x,y:p.fit[i]}));
  const svg=Plot.plot({
    width:W,height:H,marginLeft:p.ml,marginRight:W-p.ml-431.5,marginTop:p.mt,marginBottom:p.mb,
    style:{fontFamily:"Liberation Serif, serif",fontSize:"22.6px",color:"#222",background:"transparent"},
    x:{domain:[1.524,10.26]},
    y:{domain:p.yDomain},
    marks:[
      Plot.dot(p.data,{x:d=>d[0],y:d=>d[1],r:5.9,fill:"#222",stroke:"none"}),
      Plot.line(line,{x:"x",y:"y",stroke:"#6e6e6e",strokeWidth:4}),
      Plot.frame({stroke:"#333",strokeWidth:1.5}),
      Plot.axisX({ticks:xTicks,tickSize:7,tickPadding:p.pad,tickFormat:d=>String(d),label:"lnSFDI",labelAnchor:"center",labelArrow:"none",labelOffset:50,stroke:"#333",fontSize:22.6,fill:"#222"}),
      Plot.axisY({ticks:p.yTicks,tickSize:7,tickPadding:3,tickFormat:d=>String(d),label:null,stroke:"#333",fontSize:22.6,fill:"#222"})
    ]
  });
  d3.select(svg).selectAll("text").filter(function(){return this.textContent==="lnSFDI";})
    .html('ln<tspan font-style="italic">SFDI</tspan>');
  const holder=document.createElement("div");
  holder.className="p";holder.style.left=p.left+"px";holder.style.top=p.top+"px";
  holder.appendChild(svg);stage.appendChild(holder);
  const L=p.legend;
  const box=document.createElement("div");box.className="box";
  box.style.cssText=`left:${L.box[0]}px;top:${L.box[1]}px;width:${L.box[2]}px;height:${L.box[3]}px`;
  stage.appendChild(box);
  const dot=document.createElement("div");dot.className="dot";dot.style.cssText=`left:${L.dotX}px;top:${L.y-5.5}px`;stage.appendChild(dot);
  const name=document.createElement("div");name.className="t";name.style.cssText=`left:${L.textX}px;top:${L.y-12}px`;name.innerHTML=`ln<i>${L.name}</i>`;stage.appendChild(name);
  const ln=document.createElement("div");ln.className="ln";ln.style.cssText=`left:${L.lineX}px;top:${L.y-2.5}px;width:${L.lineW}px`;stage.appendChild(ln);
  const ft=document.createElement("div");ft.className="t";ft.style.cssText=`left:${L.fitX}px;top:${L.y-13}px`;ft.textContent="Fitted values";stage.appendChild(ft);
}
</script></body></html>
